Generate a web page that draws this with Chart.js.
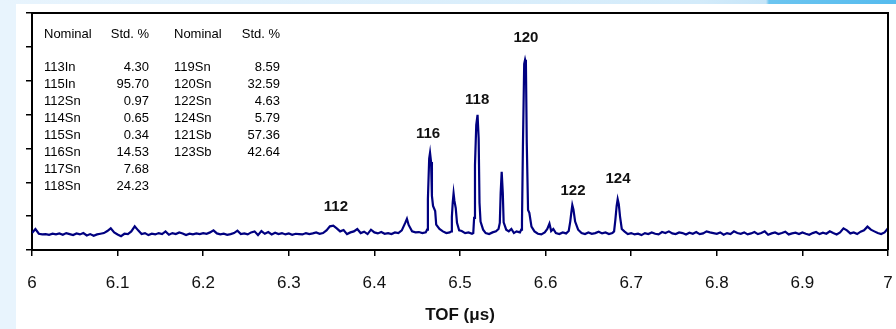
<!DOCTYPE html>
<html>
<head>
<meta charset="utf-8">
<script src="https://cdn.jsdelivr.net/npm/chart.js@4.4.1/dist/chart.umd.min.js"></script>
<style>
html,body{margin:0;padding:0;}
body{width:896px;height:329px;background:#e8f4fd;position:relative;overflow:hidden;}
#topbar{position:absolute;left:0;top:0;width:896px;height:4px;background:linear-gradient(to right,#e8f4fd 0,#d3ebfa 700px,#c6e5f8 766px,#6cc5f0 769px,#55bbee 896px);}
#panel{position:absolute;left:16px;top:4px;width:880px;height:325px;background:#fff;}
</style>
</head>
<body>
<div id="topbar"></div>
<div id="panel"><canvas id="tof" width="880" height="325"></canvas></div>
<script>
// spectrum, TOF in microseconds vs signal (arbitrary units)
const tof = [
  6.000,6.004,6.008,6.012,6.016,6.020,6.024,6.028,6.032,6.036,
  6.040,6.044,6.048,6.052,6.056,6.060,6.064,6.068,6.072,6.076,
  6.080,6.084,6.088,6.092,6.096,6.100,6.104,6.108,6.112,6.116,
  6.120,6.124,6.128,6.132,6.136,6.140,6.144,6.148,6.152,6.156,
  6.160,6.164,6.168,6.172,6.176,6.180,6.184,6.188,6.192,6.196,
  6.200,6.204,6.208,6.212,6.216,6.220,6.224,6.228,6.232,6.236,
  6.240,6.244,6.248,6.252,6.256,6.260,6.264,6.268,6.272,6.276,
  6.280,6.284,6.288,6.292,6.296,6.300,6.304,6.308,6.312,6.316,
  6.320,6.324,6.328,6.332,6.336,6.340,6.344,6.348,6.352,6.356,
  6.360,6.364,6.368,6.372,6.376,6.380,6.384,6.388,6.392,6.396,
  6.400,6.404,6.408,6.412,6.416,6.420,6.424,6.428,6.432,6.436,
  6.438,6.440,6.444,6.448,6.452,6.456,6.460,
  6.4615,6.4625,6.4640,6.4650,6.4662,6.4672,6.4685,6.4710,6.4722,6.4760,
  6.4800,6.4840,6.4880,6.4900,
  6.4905,6.4915,6.4925,6.4935,6.4950,6.4965,6.4990,6.5020,6.5060,6.5100,
  6.5140,6.5155,
  6.5165,6.5175,6.5190,6.5205,6.5218,6.5228,6.5240,6.5270,6.5300,6.5340,
  6.5380,6.5420,6.5450,
  6.5465,6.5475,6.5487,6.5500,6.5510,6.5540,6.5570,6.5600,6.5630,6.5660,
  6.5700,6.5715,
  6.5724,6.5735,6.5750,6.5760,6.5770,6.5780,6.5795,6.5810,6.5835,6.5870,
  6.5910,6.5950,6.5990,6.6020,6.6045,6.6065,6.6090,6.6120,6.6160,6.6200,
  6.6240,6.6270,
  6.6288,6.6300,6.6312,6.6325,6.6345,6.6380,6.6420,6.6460,6.6500,6.6540,
  6.6580,6.6620,6.6660,6.6700,6.6740,6.6780,6.6800,
  6.6815,6.6830,6.6842,6.6855,6.6870,6.6890,6.6920,6.6960,
  6.700,6.704,6.708,6.712,6.716,6.720,6.724,6.728,6.732,6.736,
  6.740,6.744,6.748,6.752,6.756,6.760,6.764,6.768,6.772,6.776,
  6.780,6.784,6.788,6.792,6.796,6.800,6.804,6.808,6.812,6.816,
  6.820,6.824,6.828,6.832,6.836,6.840,6.844,6.848,6.852,6.856,
  6.860,6.864,6.868,6.872,6.876,6.880,6.884,6.888,6.892,6.896,
  6.900,6.904,6.908,6.912,6.916,6.920,6.924,6.928,6.932,6.936,
  6.940,6.944,6.948,6.952,6.956,6.960,6.964,6.968,6.972,6.976,
  6.980,6.984,6.988,6.992,6.996,7.000
];
const signal = [
  0.50,0.62,0.48,0.46,0.47,0.45,0.48,0.46,0.49,0.45,
  0.50,0.47,0.44,0.49,0.46,0.50,0.43,0.47,0.42,0.46,
  0.48,0.50,0.56,0.64,0.52,0.46,0.41,0.48,0.47,0.55,
  0.70,0.58,0.47,0.50,0.44,0.48,0.46,0.50,0.47,0.55,
  0.45,0.50,0.47,0.52,0.49,0.44,0.48,0.46,0.49,0.47,
  0.50,0.48,0.52,0.58,0.49,0.46,0.48,0.45,0.47,0.50,
  0.57,0.47,0.49,0.46,0.52,0.55,0.44,0.56,0.48,0.53,
  0.46,0.51,0.47,0.50,0.46,0.49,0.45,0.48,0.47,0.46,
  0.50,0.47,0.49,0.52,0.48,0.50,0.58,0.70,0.72,0.64,
  0.55,0.59,0.47,0.52,0.55,0.62,0.50,0.54,0.47,0.60,
  0.52,0.49,0.53,0.48,0.50,0.47,0.52,0.50,0.58,0.80,
  0.92,0.74,0.55,0.52,0.53,0.50,0.52,
  0.60,1.50,2.70,2.87,2.60,1.60,1.30,1.15,0.75,0.62,
  0.55,0.50,0.52,0.55,
  0.98,1.40,1.67,1.45,1.24,0.80,0.58,0.56,0.50,0.52,
  0.48,0.50,
  0.95,2.50,3.70,3.99,3.30,1.39,0.84,0.60,0.50,0.47,
  0.52,0.55,0.62,
  0.80,1.68,2.31,1.68,0.82,0.60,0.55,0.62,0.50,0.55,
  0.52,0.60,
  0.80,3.05,5.50,5.62,5.50,3.16,1.18,1.10,0.69,0.55,
  0.48,0.46,0.52,0.62,0.78,0.56,0.62,0.50,0.47,0.52,
  0.49,0.56,
  0.84,1.10,1.33,1.20,0.84,0.60,0.50,0.47,0.52,0.48,
  0.50,0.54,0.49,0.52,0.47,0.50,0.55,
  0.89,1.30,1.50,1.35,0.98,0.62,0.55,0.47,
  0.50,0.46,0.48,0.44,0.50,0.47,0.52,0.48,0.46,0.53,
  0.50,0.55,0.49,0.47,0.52,0.50,0.46,0.51,0.48,0.53,
  0.47,0.49,0.55,0.52,0.50,0.48,0.52,0.45,0.50,0.47,
  0.55,0.50,0.48,0.52,0.46,0.49,0.53,0.47,0.50,0.55,
  0.45,0.49,0.52,0.47,0.50,0.54,0.46,0.49,0.51,0.47,
  0.52,0.48,0.45,0.50,0.53,0.47,0.51,0.48,0.55,0.50,
  0.46,0.52,0.64,0.58,0.49,0.52,0.47,0.54,0.58,0.69,
  0.60,0.55,0.50,0.47,0.52,0.64
];

// peak labels (mass number) placed at TOF / signal position
const peakMass = ['112','116','118','120','122','124'];
const peakLabelTof = [6.355,6.4626,6.520,6.577,6.632,6.6846];
const peakLabelY = [1.27,3.42,4.43,6.26,1.75,2.09];

// isotope table
const tableHead = ['Nominal','Std. %'];
const leftNominal = ['113In','115In','112Sn','114Sn','115Sn','116Sn','117Sn','118Sn'];
const leftStd = ['4.30','95.70','0.97','0.65','0.34','14.53','7.68','24.23'];
const rightNominal = ['119Sn','120Sn','122Sn','124Sn','121Sb','123Sb'];
const rightStd = ['8.59','32.59','4.63','5.79','57.36','42.64'];

const FONT = 'Arial, "Liberation Sans", sans-serif';

const frame = {
  id:'frame',
  afterDatasetsDraw(chart){
    const {ctx, chartArea:a} = chart;
    ctx.save();
    ctx.strokeStyle = '#000';
    ctx.lineWidth = 2;
    ctx.beginPath();
    ctx.moveTo(a.left, a.top); ctx.lineTo(a.right, a.top); ctx.lineTo(a.right, a.bottom);
    ctx.stroke();
    ctx.restore();
  }
};

const peakLabels = {
  id:'peakLabels',
  afterDatasetsDraw(chart){
    const {ctx, scales:{x, y}} = chart;
    ctx.save();
    ctx.font = 'bold 15px ' + FONT;
    ctx.fillStyle = '#111';
    ctx.textAlign = 'center';
    ctx.textBaseline = 'middle';
    peakMass.forEach((m,i)=>{
      ctx.fillText(m, x.getPixelForValue(peakLabelTof[i]), y.getPixelForValue(peakLabelY[i]));
    });
    ctx.restore();
  }
};

const isoTable = {
  id:'isoTable',
  afterDraw(chart){
    const ctx = chart.ctx;
    // page coords minus panel offset (16,4)
    const ox = -16, oy = -4;
    const headY = 34, row0 = 67.5, step = 17;
    ctx.save();
    ctx.font = '13px ' + FONT;
    ctx.fillStyle = '#000';
    ctx.textBaseline = 'middle';
    ctx.textAlign = 'left';
    ctx.fillText(tableHead[0], 44+ox, headY+oy);
    ctx.fillText(tableHead[0], 174+ox, headY+oy);
    leftNominal.forEach((t,i)=>ctx.fillText(t, 44+ox, row0+i*step+oy));
    rightNominal.forEach((t,i)=>ctx.fillText(t, 174+ox, row0+i*step+oy));
    ctx.textAlign = 'right';
    ctx.fillText(tableHead[1], 149+ox, headY+oy);
    ctx.fillText(tableHead[1], 280+ox, headY+oy);
    leftStd.forEach((t,i)=>ctx.fillText(t, 149+ox, row0+i*step+oy));
    rightStd.forEach((t,i)=>ctx.fillText(t, 280+ox, row0+i*step+oy));
    ctx.restore();
  }
};

new Chart(document.getElementById('tof'), {
  type:'line',
  data:{ datasets:[{
    data: tof.map((t,i)=>({x:t, y:signal[i]})),
    borderColor:'#000080', borderWidth:2.2, pointRadius:0, tension:0, fill:false
  }]},
  options:{
    responsive:false, animation:false,
    layout:{padding:{top:9, right:8, left:0, bottom:0}},
    plugins:{legend:{display:false}, tooltip:{enabled:false}},
    scales:{
      x:{
        type:'linear', min:6, max:7,
        ticks:{stepSize:0.1, color:'#111', font:{family:FONT, size:17}, padding:17, maxRotation:0,
          callback:v=>String(Number(v.toFixed(1)))},
        grid:{drawOnChartArea:false, drawTicks:true, tickLength:6, color:'#000', lineWidth:1.5},
        border:{color:'#000', width:2},
        title:{display:true, text:'TOF (μs)', color:'#111', font:{family:FONT, size:17, weight:'bold'}, padding:{top:2, bottom:3}},
        afterFit:s=>{ s.height = 79; s.paddingLeft = 0; s.paddingRight = 0; }
      },
      y:{
        min:0, max:7,
        ticks:{stepSize:1, display:false},
        grid:{drawOnChartArea:false, drawTicks:true, tickLength:6, color:'#000', lineWidth:1.5},
        border:{color:'#000', width:2},
        afterFit:s=>{ s.width = 16; }
      }
    }
  },
  plugins:[frame, peakLabels, isoTable]
});
</script>
</body>
</html>
